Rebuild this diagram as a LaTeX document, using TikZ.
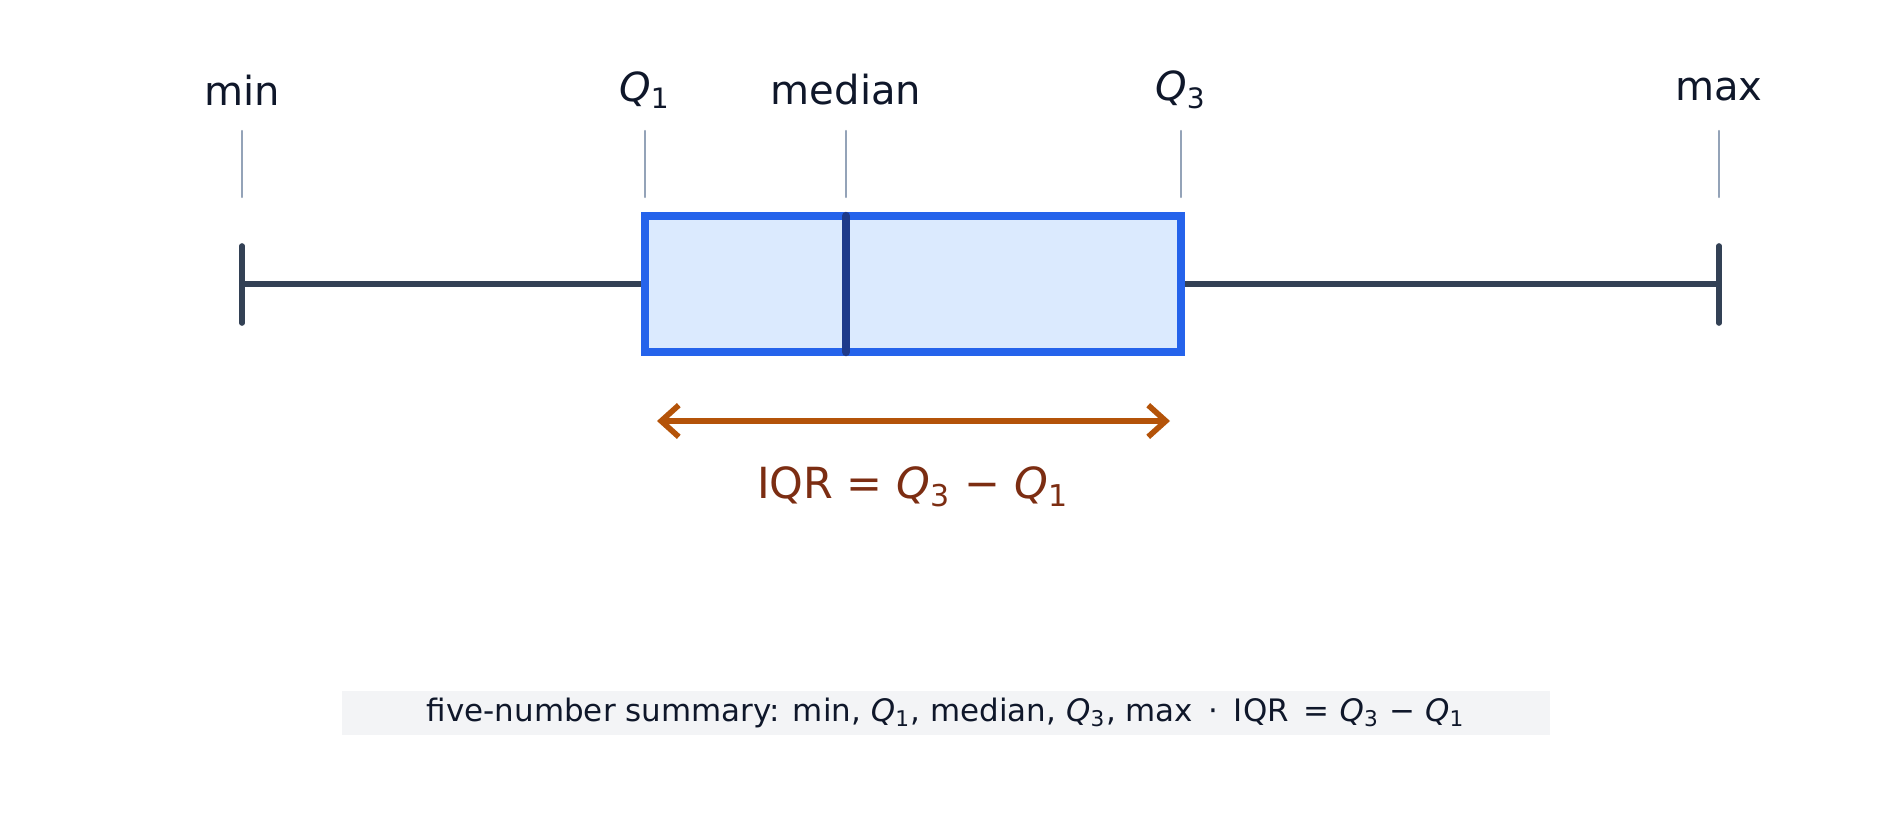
\documentclass[tikz,border=0pt]{standalone}
\usepackage{fontspec}
\setmainfont{DejaVu Sans}
\usetikzlibrary{arrows.meta}
\definecolor{inkc}{HTML}{0F172A}
\definecolor{whisk}{HTML}{334155}
\definecolor{tickc}{HTML}{94A3B8}
\definecolor{boxline}{HTML}{2563EB}
\definecolor{boxfill}{HTML}{DBEAFE}
\definecolor{medc}{HTML}{1E3A8A}
\definecolor{iqrc}{HTML}{B45309}
\definecolor{iqrtext}{HTML}{7C2D12}
\definecolor{capfill}{HTML}{F3F4F6}
\newcommand{\qq}[1]{\textit{Q}\textsubscript{#1}}
\tikzset{
  lbl/.style={text=inkc, font=\fontsize{11.4}{13}\selectfont, inner sep=0pt},
  tick/.style={tickc, line width=0.7pt, line cap=round},
  whisker/.style={whisk, line width=1.6pt, line cap=round},
}
\begin{document}
\begin{tikzpicture}[x=0.01cm, y=-0.01cm]
  \useasboundingbox[fill=white] (0,0) rectangle (1896,830);

  % labels on top
  \node[lbl] (lmin) at (242,90) {min};
  \node[lbl] (lq1) at (645,90) {\qq{1}};
  \node[lbl] (lmed) at (846,90) {median};
  \node[lbl] (lq3) at (1181,90) {\qq{3}};
  \node[lbl] (lmax) at (1719,90) {max};

  % guide ticks
  \foreach \x/\n in {242/a, 645/b, 846/c, 1181/d, 1719/e} {
    \coordinate (t\n) at (\x,131);
    \coordinate (b\n) at (\x,197);
    \draw[tick] (t\n) -- (b\n);
  }

  % whiskers
  \coordinate (wmin) at (242,284);
  \coordinate (wq1) at (645,284);
  \coordinate (wq3) at (1181,284);
  \coordinate (wmax) at (1719,284);
  \draw[whisker] (wmin) -- (wq1);
  \draw[whisker] (wq3) -- (wmax);
  \draw[whisker] (242,246) -- (242,323);
  \draw[whisker] (1719,246) -- (1719,323);

  % box
  \node[draw=boxline, fill=boxfill, line width=2.2pt, inner sep=0pt,
        minimum width=5.36cm, minimum height=1.36cm] (box) at (913,284) {};
  \coordinate (mtop) at (846,216);
  \coordinate (mbot) at (846,352);
  \draw[medc, line width=2.4pt, line cap=round] (mtop) -- (mbot);

  % IQR arrow
  \coordinate (al) at (657,421);
  \coordinate (ar) at (1170,421);
  \draw[iqrc, line width=1.6pt, {Straight Barb[length=5pt,width=9pt]}-{Straight Barb[length=5pt,width=9pt]}] (al) -- (ar);
  \node[text=iqrtext, font=\fontsize{12.2}{14}\selectfont, inner sep=0pt] (iqr) at (913,487)
    {IQR = \qq{3} − \qq{1}};

  % caption
  \node[fill=capfill, text=inkc, font=\fontsize{8.8}{10}\selectfont, minimum width=12.07cm,
        minimum height=0.44cm, inner sep=0pt] (cap) at (946,713)
    {five-number summary: min, \qq{1}, median, \qq{3}, max\enspace·\enspace IQR \,= \qq{3} − \qq{1}};
\end{tikzpicture}
\end{document}
